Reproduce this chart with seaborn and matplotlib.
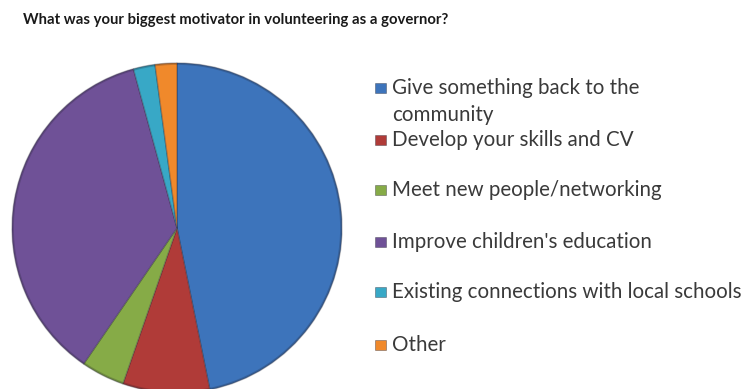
import matplotlib
matplotlib.use("Agg")
import matplotlib.pyplot as plt
from matplotlib.patches import Rectangle, Circle
import seaborn as sns

# Survey responses
categories = [
    "Give something back to the\ncommunity",
    "Develop your skills and CV",
    "Meet new people/networking",
    "Improve children's education",
    "Existing connections with local schools",
    "Other",
]
counts = [22, 4, 2, 17, 1, 1]
title = "What was your biggest motivator in volunteering as a governor?"

sns.set_theme(style="white")
plt.rcParams["font.family"] = ["Lato", "DejaVu Sans"]

palette = sns.color_palette(["#3d74bb", "#b03b38", "#86ab47", "#6f5197", "#38a8c6", "#f0892b"])

W, H = 747, 389
fig = plt.figure(figsize=(W / 100, H / 100), dpi=100)
fig.patch.set_facecolor("white")

# Pie axes placed in pixel units: centre (177, 228), radius 165
cx, cy, r = 177, 228, 165
ax = fig.add_axes([(cx - r) / W, (H - cy - r) / H, 2 * r / W, 2 * r / H])
wedges, _ = ax.pie(
    counts,
    colors=palette,
    startangle=90,
    counterclock=False,
    wedgeprops=dict(edgecolor=(0.15, 0.15, 0.2, 0.3), linewidth=1.0),
)
# soft darker rim around the pie
ax.add_patch(Circle((0, 0), 0.995, facecolor="none",
                    edgecolor=(0.1, 0.1, 0.15, 0.22), linewidth=1.5))
ax.set_xlim(-1.0, 1.0)
ax.set_ylim(-1.0, 1.0)
ax.set_aspect("equal")
ax.axis("off")

fig.text(23 / W, 1 - 20 / H, title, ha="left", va="center",
         fontsize=10.7, fontweight="bold", color="#1a1a1a")

# Legend drawn as coloured squares and labels
ys = [88, 140, 190, 242, 292, 345]
for label, color, y in zip(categories, palette, ys):
    fig.patches.append(Rectangle((375 / W, 1 - (y + 5) / H), 11 / W, 10 / H,
                                 transform=fig.transFigure, facecolor=color,
                                 edgecolor=(0.2, 0.2, 0.25, 0.45), linewidth=0.6))
    for i, line in enumerate(label.split("\n")):
        fig.text(392 / W, 1 - (y + 27 * i) / H, line, ha="left", va="center",
                 fontsize=14.8, color="#3a3a3a")

fig.savefig("out.png", dpi=100, facecolor="white")
